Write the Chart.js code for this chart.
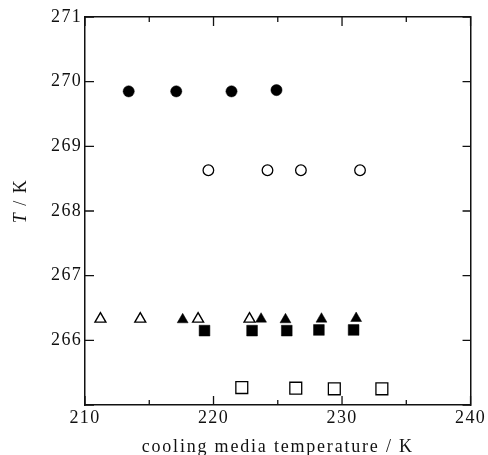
<!DOCTYPE html>
<html>
<head>
<meta charset="utf-8">
<script src="https://cdn.jsdelivr.net/npm/chart.js@4"></script>
<style>
  body { margin: 0; background: #fff; }
  canvas { display: block; }
</style>
</head>
<body>
<canvas id="chart" width="488" height="455"></canvas>
<script>
// data (x = cooling media temperature / K, y = T / K)
var filledCircleX = [213.4, 217.1, 221.4, 224.9];
var filledCircleY = [269.85, 269.85, 269.85, 269.87];
var openCircleX = [219.6, 224.2, 226.8, 231.4];
var openCircleY = [268.63, 268.63, 268.63, 268.63];
var openTriangleX = [211.2, 214.3, 218.8, 222.8];
var openTriangleY = [266.33, 266.33, 266.33, 266.33];
var filledTriangleX = [217.6, 223.7, 225.6, 228.4, 231.1];
var filledTriangleY = [266.32, 266.33, 266.32, 266.33, 266.34];
var filledSquareX = [219.3, 223.0, 225.7, 228.2, 230.9];
var filledSquareY = [266.15, 266.15, 266.15, 266.16, 266.16];
var openSquareX = [222.2, 226.4, 229.4, 233.1];
var openSquareY = [265.27, 265.26, 265.25, 265.25];

var xTicks = [210, 220, 230, 240];
var yTicks = [266, 267, 268, 269, 270, 271];

function pts(xs, ys) {
    return xs.map(function (x, i) { return { x: x, y: ys[i] }; });
}

var FONT = 'Liberation Serif, Times New Roman, serif';
var SPACING = '1.3px';

// inward tick marks on all four sides + axis titles
var framePlugin = {
    id: 'frame',
    beforeLayout: function (chart) { chart.ctx.letterSpacing = SPACING; },
    beforeDraw: function (chart) { chart.ctx.letterSpacing = SPACING; },
    afterDraw: function (chart) {
        var ctx = chart.ctx;
        var a = chart.chartArea;
        var xs = chart.scales.x, ys = chart.scales.y;
        ctx.save();
        ctx.strokeStyle = '#111';
        ctx.lineWidth = 1.3;
        ctx.beginPath();
        for (var v = 210; v <= 240; v += 5) {
            var px = xs.getPixelForValue(v);
            var len = v % 10 === 0 ? 9 : 5;
            ctx.moveTo(px, a.bottom); ctx.lineTo(px, a.bottom - len);
            ctx.moveTo(px, a.top); ctx.lineTo(px, a.top + len);
        }
        for (var t = 265; t <= 271; t++) {
            var py = ys.getPixelForValue(t);
            ctx.moveTo(a.left, py); ctx.lineTo(a.left + 9, py);
            ctx.moveTo(a.right, py); ctx.lineTo(a.right - 8, py);
        }
        ctx.stroke();

        ctx.fillStyle = '#111';
        ctx.letterSpacing = '1.8px';
        ctx.textBaseline = 'middle';
        ctx.font = '18px ' + FONT;
        ctx.textAlign = 'center';
        ctx.fillText('cooling media temperature / K', (a.left + a.right) / 2, 447);

        // y title, rotated, with italic T
        ctx.letterSpacing = '1.5px';
        ctx.translate(21, 201);
        ctx.rotate(-Math.PI / 2);
        ctx.textAlign = 'left';
        ctx.font = 'italic 18px ' + FONT;
        var wT = ctx.measureText('T').width;
        ctx.font = '18px ' + FONT;
        var wR = ctx.measureText(' / K').width;
        var start = -(wT + wR) / 2;
        ctx.font = 'italic 18px ' + FONT;
        ctx.fillText('T', start, 0);
        ctx.font = '18px ' + FONT;
        ctx.fillText(' / K', start + wT, 0);
        ctx.restore();
    }
};

var border = { display: true, color: '#111', width: 1.5 };
var tickFont = { family: FONT, size: 18 };

new Chart(document.getElementById('chart').getContext('2d'), {
    type: 'scatter',
    data: {
        datasets: [
            { data: pts(filledCircleX, filledCircleY), pointStyle: 'circle', pointRadius: 5.6,
              backgroundColor: '#000', borderColor: '#000', borderWidth: 0.5 },
            { data: pts(openCircleX, openCircleY), pointStyle: 'circle', pointRadius: 5.3,
              backgroundColor: '#fff', borderColor: '#000', borderWidth: 1.3 },
            { data: pts(openTriangleX, openTriangleY), pointStyle: 'triangle', pointRadius: 6.3,
              backgroundColor: '#fff', borderColor: '#000', borderWidth: 1.4 },
            { data: pts(filledTriangleX, filledTriangleY), pointStyle: 'triangle', pointRadius: 6.3,
              backgroundColor: '#000', borderColor: '#000', borderWidth: 0.5 },
            { data: pts(filledSquareX, filledSquareY), pointStyle: 'rect', pointRadius: 7.6,
              backgroundColor: '#000', borderColor: '#000', borderWidth: 0.5 },
            { data: pts(openSquareX, openSquareY), pointStyle: 'rect', pointRadius: 8.4,
              backgroundColor: '#fff', borderColor: '#000', borderWidth: 1.3 }
        ]
    },
    options: {
        responsive: false,
        animation: false,
        devicePixelRatio: 1,
        layout: { padding: { left: 0, right: 15, top: 17, bottom: 0 } },
        plugins: { legend: { display: false }, tooltip: { enabled: false } },
        scales: {
            x: {
                type: 'linear', position: 'bottom', min: 210, max: 240,
                afterBuildTicks: function (s) { s.ticks = xTicks.map(function (v) { return { value: v }; }); },
                ticks: { font: tickFont, color: '#111', padding: 2, maxRotation: 0 },
                grid: { display: false, drawTicks: false },
                border: border,
                afterFit: function (s) { s.height = 50; }
            },
            y: {
                type: 'linear', position: 'left', min: 265, max: 271,
                afterBuildTicks: function (s) { s.ticks = yTicks.map(function (v) { return { value: v }; }); },
                ticks: { font: tickFont, color: '#111', padding: 3 },
                grid: { display: false, drawTicks: false },
                border: border,
                afterFit: function (s) { s.width = 85; }
            },
            x2: {
                type: 'linear', position: 'top', min: 210, max: 240,
                ticks: { display: false }, grid: { display: false, drawTicks: false }, border: border,
                afterFit: function (s) { s.height = 0; }
            },
            y2: {
                type: 'linear', position: 'right', min: 265, max: 271,
                ticks: { display: false }, grid: { display: false, drawTicks: false }, border: border,
                afterFit: function (s) { s.width = 0; }
            }
        }
    },
    plugins: [framePlugin]
});
</script>
</body>
</html>
